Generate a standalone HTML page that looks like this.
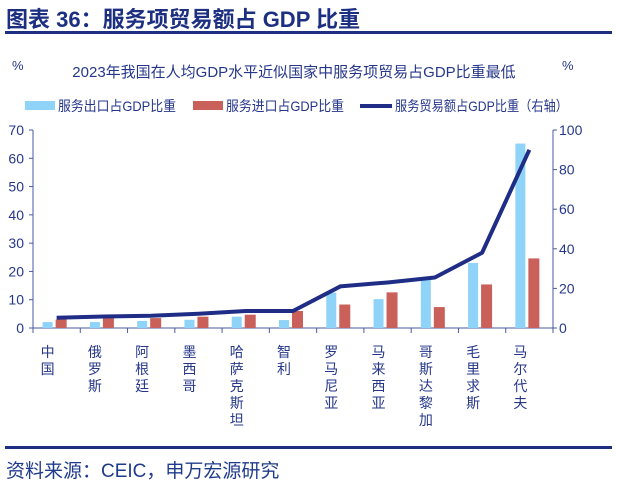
<!DOCTYPE html>
<html><head><meta charset="utf-8">
<style>
body{margin:0;width:617px;height:481px;background:#fff;overflow:hidden;font-family:"Liberation Sans","Noto Sans CJK SC",sans-serif;}
</style></head>
<body>
<svg width="617" height="481" viewBox="0 0 617 481" xmlns="http://www.w3.org/2000/svg" font-family="Liberation Sans, Noto Sans CJK SC, sans-serif">
<text x="6" y="27" font-size="22" font-weight="bold" fill="#1c2f80">图表 36：服务项贸易额占 GDP 比重</text>
<rect x="5" y="31" width="607" height="3" fill="#1c2f80"/>
<text x="294" y="77" font-size="15" text-anchor="middle" fill="#26378a">2023年我国在人均GDP水平近似国家中服务项贸易占GDP比重最低</text>
<text x="12" y="70" font-size="13" fill="#26378a">%</text>
<text x="562" y="70" font-size="13" fill="#26378a">%</text>
<g font-size="14" fill="#26378a">
<rect x="25" y="101" width="30" height="9" fill="#8fd3f8"/>
<text x="58" y="111" textLength="118" lengthAdjust="spacingAndGlyphs">服务出口占GDP比重</text>
<rect x="193" y="101" width="30" height="9" fill="#c9605a"/>
<text x="226" y="111" textLength="118" lengthAdjust="spacingAndGlyphs">服务进口占GDP比重</text>
<rect x="360" y="104" width="32" height="4" fill="#1f2d86"/>
<text x="395" y="111" textLength="173" lengthAdjust="spacingAndGlyphs">服务贸易额占GDP比重（右轴）</text>
</g>
<g id="plot"></g>
<rect x="5" y="446" width="607" height="3" fill="#1c2f80"/>
<text x="6" y="477" font-size="19" fill="#1f3b8c">资料来源：CEIC，申万宏源研究</text>
</svg>
<script>
const categories=["中国","俄罗斯","阿根廷","墨西哥","哈萨克斯坦","智利","罗马尼亚","马来西亚","哥斯达黎加","毛里求斯","马尔代夫"];
const exportVals=[2.1,2.1,2.5,2.9,4.0,2.8,12.5,10.2,17.2,23.0,65.2];
const importVals=[3.0,4.0,3.5,4.0,4.7,6.0,8.3,12.6,7.4,15.4,24.6];
const totalVals=[5.2,5.8,6.2,7.2,8.6,8.6,21,23,25.5,38,90];
const leftTicks=[0,10,20,30,40,50,60,70];
const rightTicks=[0,20,40,60,80,100];
const NS="http://www.w3.org/2000/svg";
const g=document.getElementById('plot');
const X0=33,X1=553,Y0=328,Y1=130;
const step=(X1-X0)/categories.length;
const yL=v=>Y0-(v/70)*(Y0-Y1);
const yR=v=>Y0-(v/100)*(Y0-Y1);
const cx=i=>X0+step*(i+0.5);
function mk(tag,attrs){const e=document.createElementNS(NS,tag);for(const k in attrs)e.setAttribute(k,attrs[k]);g.appendChild(e);return e;}
const axc="#4a5aa0",tc="#26378a";
let a=mk('line',{x1:X0,y1:Y1,x2:X0,y2:Y0,stroke:axc,'stroke-width':1});


a=mk('line',{x1:X1,y1:Y1,x2:X1,y2:Y0,stroke:axc,'stroke-width':1});


a=mk('line',{x1:X0,y1:Y0,x2:X1,y2:Y0,stroke:axc,'stroke-width':1});


leftTicks.forEach(v=>{
 const y=yL(v);
 const t=mk('line',{x1:X0-4,y1:y,x2:X0,y2:y,stroke:axc});
 
 
 const l=mk('text',{x:X0-9,y:y+5,'font-size':14,'text-anchor':'end',fill:tc});
 
 
 l.textContent=v;
});
rightTicks.forEach(v=>{
 const y=yR(v);
 const t=mk('line',{x1:X1,y1:y,x2:X1+4,y2:y,stroke:axc});
 
 
 const l=mk('text',{x:X1+6,y:y+5,'font-size':14,fill:tc});
 
 
 l.textContent=v;
});
for(let i=0;i<=categories.length;i++){
 const x=X0+step*i;
 const t=mk('line',{x1:x,y1:Y0,x2:x,y2:Y0+5,stroke:axc});
 
 
}
categories.forEach((c,i)=>{
 const b1=mk('rect',{x:cx(i)-14,y:yL(exportVals[i]),width:10,height:Y0-yL(exportVals[i]),fill:'#8fd3f8'});
 
 
 const b2=mk('rect',{x:cx(i)-1,y:yL(importVals[i]),width:11,height:Y0-yL(importVals[i]),fill:'#c9605a'});
 
 
 const l=mk('text',{x:cx(i)-9,'font-size':14,'text-anchor':'middle',fill:tc});
 
 
 [...c].forEach((ch,k)=>{const s=document.createElementNS(NS,'tspan');s.setAttribute('x',cx(i)-9);s.setAttribute('y',357+k*17);s.textContent=ch;l.appendChild(s);});
});
const pts=totalVals.map((v,i)=>cx(i)+','+yR(v)).join(' ');
const pl=mk('polyline',{points:pts,fill:'none',stroke:'#1f2d86','stroke-width':4,'stroke-linejoin':'round'});


</script>
</body></html>
